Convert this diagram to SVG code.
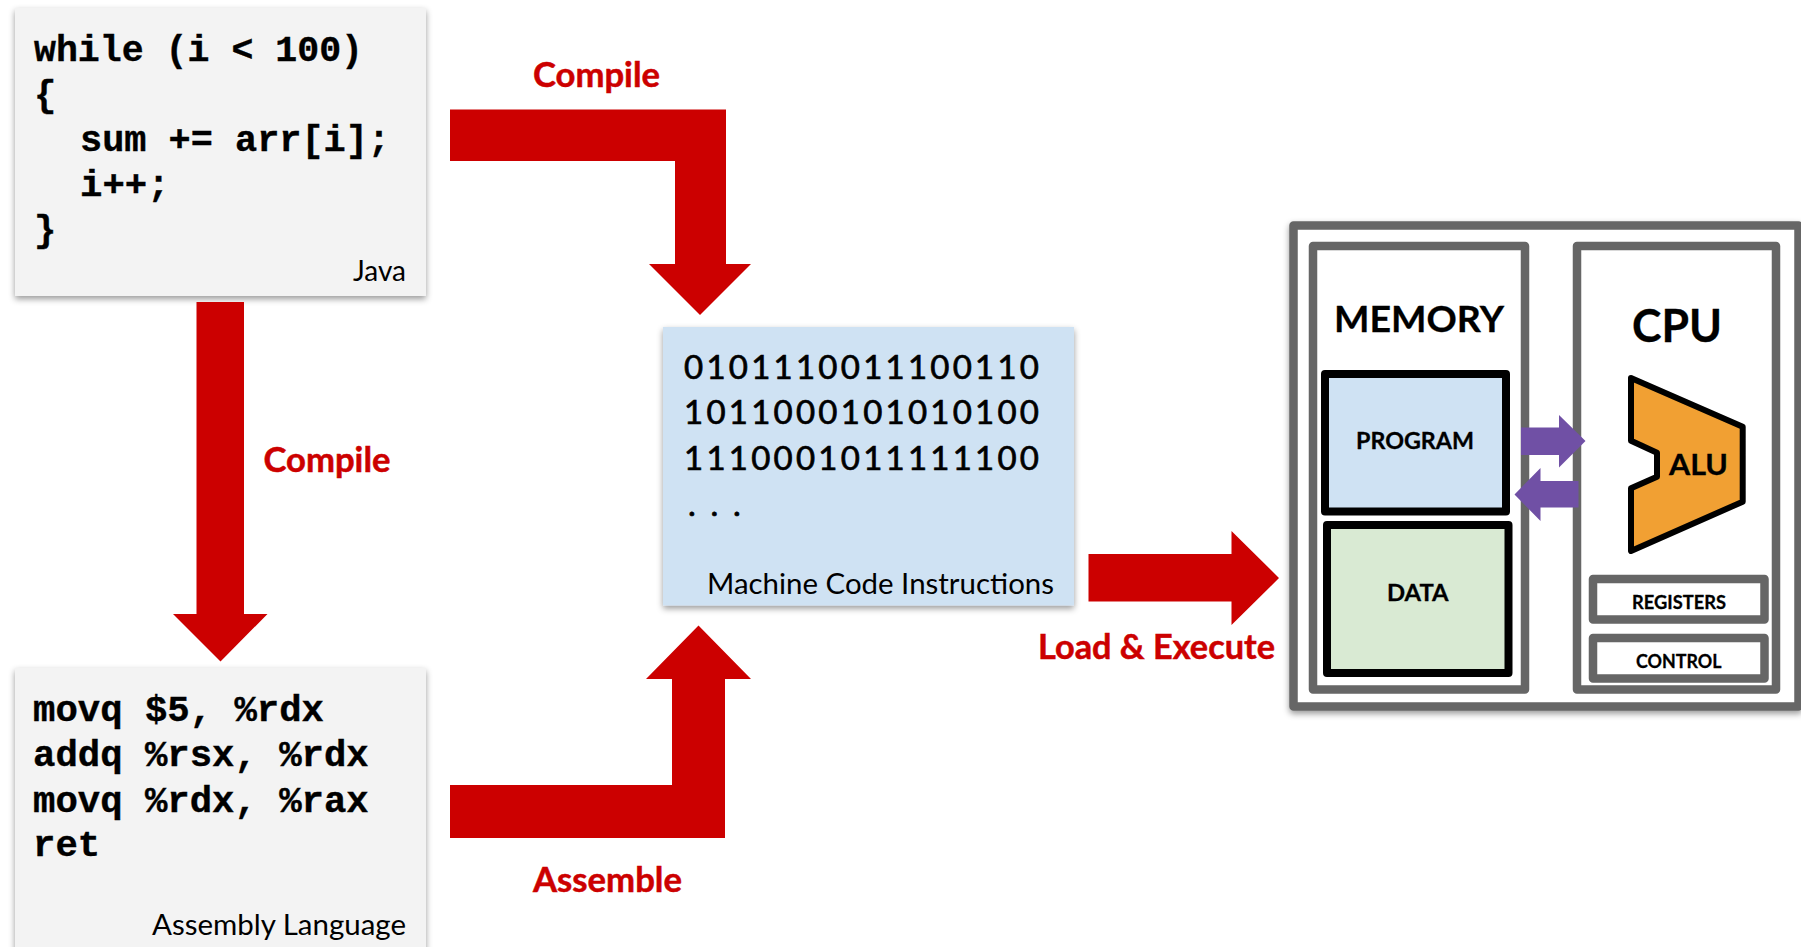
<svg xmlns="http://www.w3.org/2000/svg" width="1801" height="947" viewBox="0 0 1801 947">
<style>
.code{font-family:"Liberation Mono","DejaVu Sans Mono",monospace;font-weight:700;font-size:37.3px;fill:#000;stroke:#000;stroke-width:.4}
.bin{font-family:Lato,"Noto Sans",sans-serif;font-size:33px;fill:#000;stroke:#000;stroke-width:.7}
.cap{font-family:Lato,"Noto Sans",sans-serif;font-size:28px;fill:#000}
.red{font-family:Lato,"Noto Sans",sans-serif;font-weight:700;font-size:34px;fill:#c00;stroke:#c00;stroke-width:.5}
.lbl{font-family:Lato,"Noto Sans",sans-serif;font-weight:700;fill:#000;stroke:#000;stroke-width:.3}
.arrow{fill:#c00}
.bus{fill:#7050a5}
.gray{fill:#fff;stroke:#666;stroke-width:8.5;stroke-linejoin:round}
.blk{stroke:#000;stroke-width:8;stroke-linejoin:round}
</style>
<defs>
<filter id="sh" x="-5%" y="-5%" width="110%" height="110%"><feDropShadow dx="0" dy="3" stdDeviation="3" flood-color="#000" flood-opacity="0.4"/></filter>
</defs>
<g id="java">
<rect x="15" y="8" width="411" height="288" fill="#f3f3f3" filter="url(#sh)"/>
<text class="code" x="34" y="61" textLength="329" lengthAdjust="spacingAndGlyphs">while (i &lt; 100)</text>
<text class="code" x="34" y="106">{</text>
<text class="code" x="80" y="151" textLength="310" lengthAdjust="spacingAndGlyphs">sum += arr[i];</text>
<text class="code" x="80" y="196">i++;</text>
<text class="code" x="34" y="241">}</text>
<text class="cap" x="406" y="281" text-anchor="end">Java</text>
</g>
<g id="assembly">
<rect x="15" y="668" width="411" height="300" fill="#f3f3f3" filter="url(#sh)"/>
<text class="code" x="33" y="720.5">movq $5, %rdx</text>
<text class="code" x="33" y="766">addq %rsx, %rdx</text>
<text class="code" x="33" y="812">movq %rdx, %rax</text>
<text class="code" x="33" y="856">ret</text>
<text class="cap" x="152" y="935" textLength="254" lengthAdjust="spacingAndGlyphs">Assembly Language</text>
</g>
<g id="machine">
<rect x="663" y="327" width="411" height="278.5" fill="#cfe2f3" filter="url(#sh)"/>
<text class="bin" x="684" y="378.5" textLength="355">0101110011100110</text>
<text class="bin" x="684" y="423.5" textLength="355">1011000101010100</text>
<text class="bin" x="684" y="469.5" textLength="355">1110001011111100</text>
<text class="bin" x="688 710.5 733" y="516">...</text>
<text class="cap" x="707" y="594" textLength="347" lengthAdjust="spacingAndGlyphs">Machine Code Instructions</text>
</g>
<g id="computer">
<rect class="gray" x="1293.5" y="225.5" width="505" height="481" filter="url(#sh)"/>
<g id="memory">
<rect class="gray" x="1313" y="246" width="212" height="443.5"/>
<text class="lbl" x="1334" y="331.5" font-size="37" textLength="170" lengthAdjust="spacingAndGlyphs">MEMORY</text>
<g id="program">
<rect class="blk" x="1325" y="374" width="181" height="137.5" fill="#cfe2f3"/>
<text class="lbl" x="1356" y="448.5" font-size="23" textLength="118" lengthAdjust="spacingAndGlyphs">PROGRAM</text>
</g>
<g id="data">
<rect class="blk" x="1327" y="525" width="181.5" height="148" fill="#d9ead3"/>
<text class="lbl" x="1387" y="600.5" font-size="23" textLength="61.5" lengthAdjust="spacingAndGlyphs">DATA</text>
</g>
</g>
<g id="cpu">
<rect class="gray" x="1577" y="246" width="199" height="443.5"/>
<text class="lbl" x="1632" y="342" font-size="46" textLength="90" lengthAdjust="spacingAndGlyphs">CPU</text>
<g id="alu">
<polygon points="1631,378 1742.7,426.7 1742.7,501.7 1631,551 1631,488.3 1657,476.7 1657,452.7 1631,440.7" fill="#f1a033" stroke="#000" stroke-width="6" stroke-linejoin="round"/>
<text class="lbl" x="1669" y="474.5" font-size="28" textLength="59" lengthAdjust="spacingAndGlyphs">ALU</text>
</g>
<g id="registers">
<rect class="gray" x="1593" y="579" width="171.5" height="40.5"/>
<text class="lbl" x="1632" y="609" font-size="19.5" textLength="94" lengthAdjust="spacingAndGlyphs">REGISTERS</text>
</g>
<g id="control">
<rect class="gray" x="1593" y="638" width="171.5" height="40.5"/>
<text class="lbl" x="1636" y="668" font-size="19.5" textLength="85.5" lengthAdjust="spacingAndGlyphs">CONTROL</text>
</g>
</g>
</g>
<g id="connectors">
<polygon class="arrow" points="450,109.5 726,109.5 726,264 751,264 700,315 649,264 675,264 675,161 450,161"/>
<polygon class="arrow" points="196.5,302 244,302 244,614 267.5,614 220.5,661.5 173,614 196.5,614"/>
<polygon class="arrow" points="450,785 672,785 672,679 646,679 698.5,625.5 751,679 725,679 725,838 450,838"/>
<polygon class="arrow" points="1088.5,554 1231.5,554 1231.5,531 1279,578 1231.5,625 1231.5,601.5 1088.5,601.5"/>
<polygon class="bus" points="1521,427.5 1559,427.5 1559,415 1585.5,441 1559,467.5 1559,455 1521,455"/>
<polygon class="bus" points="1578.5,481 1540.5,481 1540.5,468 1514.5,494.5 1540.5,521 1540.5,507.5 1578.5,507.5"/>
</g>
<g id="labels">
<text class="red" x="533" y="87" textLength="127" lengthAdjust="spacingAndGlyphs">Compile</text>
<text class="red" x="263.5" y="472" textLength="127" lengthAdjust="spacingAndGlyphs">Compile</text>
<text class="red" x="533" y="892" textLength="149" lengthAdjust="spacingAndGlyphs">Assemble</text>
<text class="red" x="1038" y="658.5" textLength="237" lengthAdjust="spacingAndGlyphs">Load &amp; Execute</text>
</g>
</svg>
